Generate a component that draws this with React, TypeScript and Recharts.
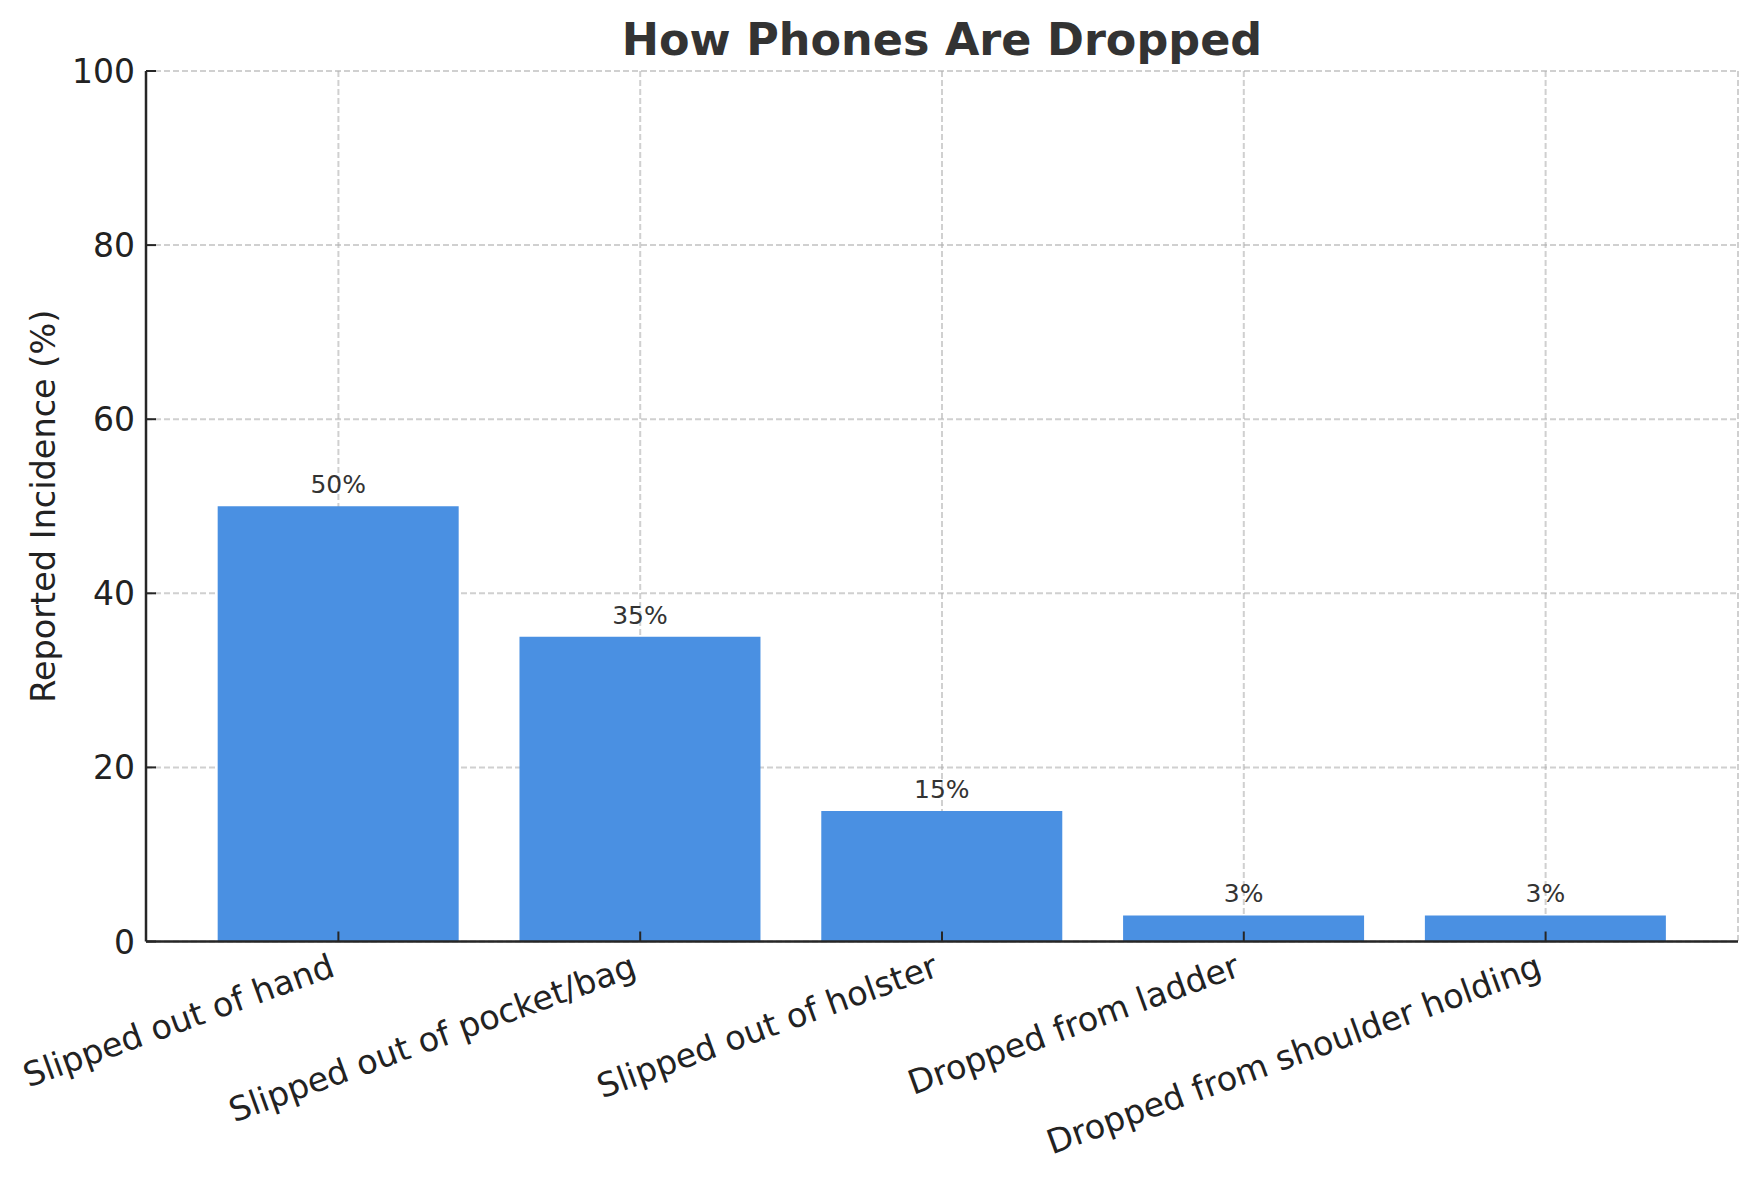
import { BarChart, Bar, XAxis, YAxis, CartesianGrid, LabelList } from 'recharts';

const categories = [
  'Slipped out of hand',
  'Slipped out of pocket/bag',
  'Slipped out of holster',
  'Dropped from ladder',
  'Dropped from shoulder holding',
];
const incidence = [50, 35, 15, 3, 3];
const yTicks = [0, 20, 40, 60, 80, 100];

const data = categories.map((name, i) => ({ name, value: incidence[i] }));

const FONT = '"DejaVu Sans", sans-serif';
const AXIS = '#262626';

function XTick(props: any) {
  const { x, y, payload } = props;
  const ax = x - 2;
  const ay = y + 34;
  return (
    <g>
      <line x1={x} y1={y} x2={x} y2={y - 10} stroke={AXIS} strokeWidth={2} />
      <text
        x={ax}
        y={ay}
        transform={`rotate(-20, ${ax}, ${ay})`}
        textAnchor="end"
        fontSize={33.5}
        fill="#222"
        fontFamily={FONT}
      >
        {payload.value}
      </text>
    </g>
  );
}

function YTick(props: any) {
  const { x, y, payload } = props;
  return (
    <g>
      <line x1={x} y1={y} x2={x + 10} y2={y} stroke={AXIS} strokeWidth={2} />
      <text x={x - 11} y={y + 12} textAnchor="end" fontSize={33} fill="#222" fontFamily={FONT}>
        {payload.value}
      </text>
    </g>
  );
}

function YLabel(props: any) {
  const vb = props.viewBox || { x: 0, y: 71, height: 871 };
  const cx = 43;
  const cy = vb.y + vb.height / 2;
  return (
    <text
      x={cx}
      y={cy}
      transform={`rotate(-90, ${cx}, ${cy})`}
      textAnchor="middle"
      dominantBaseline="central"
      fontSize={33.5}
      fill="#222"
      fontFamily={FONT}
    >
      Reported Incidence (%)
    </text>
  );
}

function ValueLabel(props: any) {
  const { x, y, width, value } = props;
  return (
    <text x={x + width / 2} y={y - 13} textAnchor="middle" fontSize={25} fill="#333" fontFamily={FONT}>
      {`${value}%`}
    </text>
  );
}

export default function App() {
  return (
    <div style={{ position: 'absolute', left: 0, top: 0, width: 1756, height: 1180, background: '#fff' }}>
      <div
        style={{
          position: 'absolute',
          left: 942,
          top: 18,
          transform: 'translateX(-50%)',
          fontFamily: FONT,
          fontWeight: 'bold',
          fontSize: 44.5,
          lineHeight: '44px',
          color: '#333',
          whiteSpace: 'nowrap',
        }}
      >
        How Phones Are Dropped
      </div>
      <BarChart
        width={1756}
        height={1180}
        data={data}
        margin={{ top: 71, right: 18, bottom: 0, left: 0 }}
        barCategoryGap="10%"
      >
        <XAxis
          dataKey="name"
          type="category"
          height={238.5}
          padding={{ left: 41.5, right: 41.5 }}
          axisLine={{ stroke: AXIS, strokeWidth: 2.5 }}
          tickLine={false}
          tickSize={0}
          tickMargin={0}
          interval={0}
          tick={<XTick />}
        />
        <YAxis
          width={146}
          domain={[0, 100]}
          ticks={yTicks}
          axisLine={{ stroke: AXIS, strokeWidth: 2.5 }}
          tickLine={false}
          tickSize={0}
          tickMargin={0}
          tick={<YTick />}
          label={<YLabel />}
        />
        <Bar dataKey="value" fill="#4A90E2" isAnimationActive={false}>
          <LabelList dataKey="value" content={<ValueLabel />} />
        </Bar>
        <CartesianGrid stroke="#b0b0b0" strokeOpacity={0.6} strokeWidth={2} strokeDasharray="6 3" />
      </BarChart>
    </div>
  );
}
